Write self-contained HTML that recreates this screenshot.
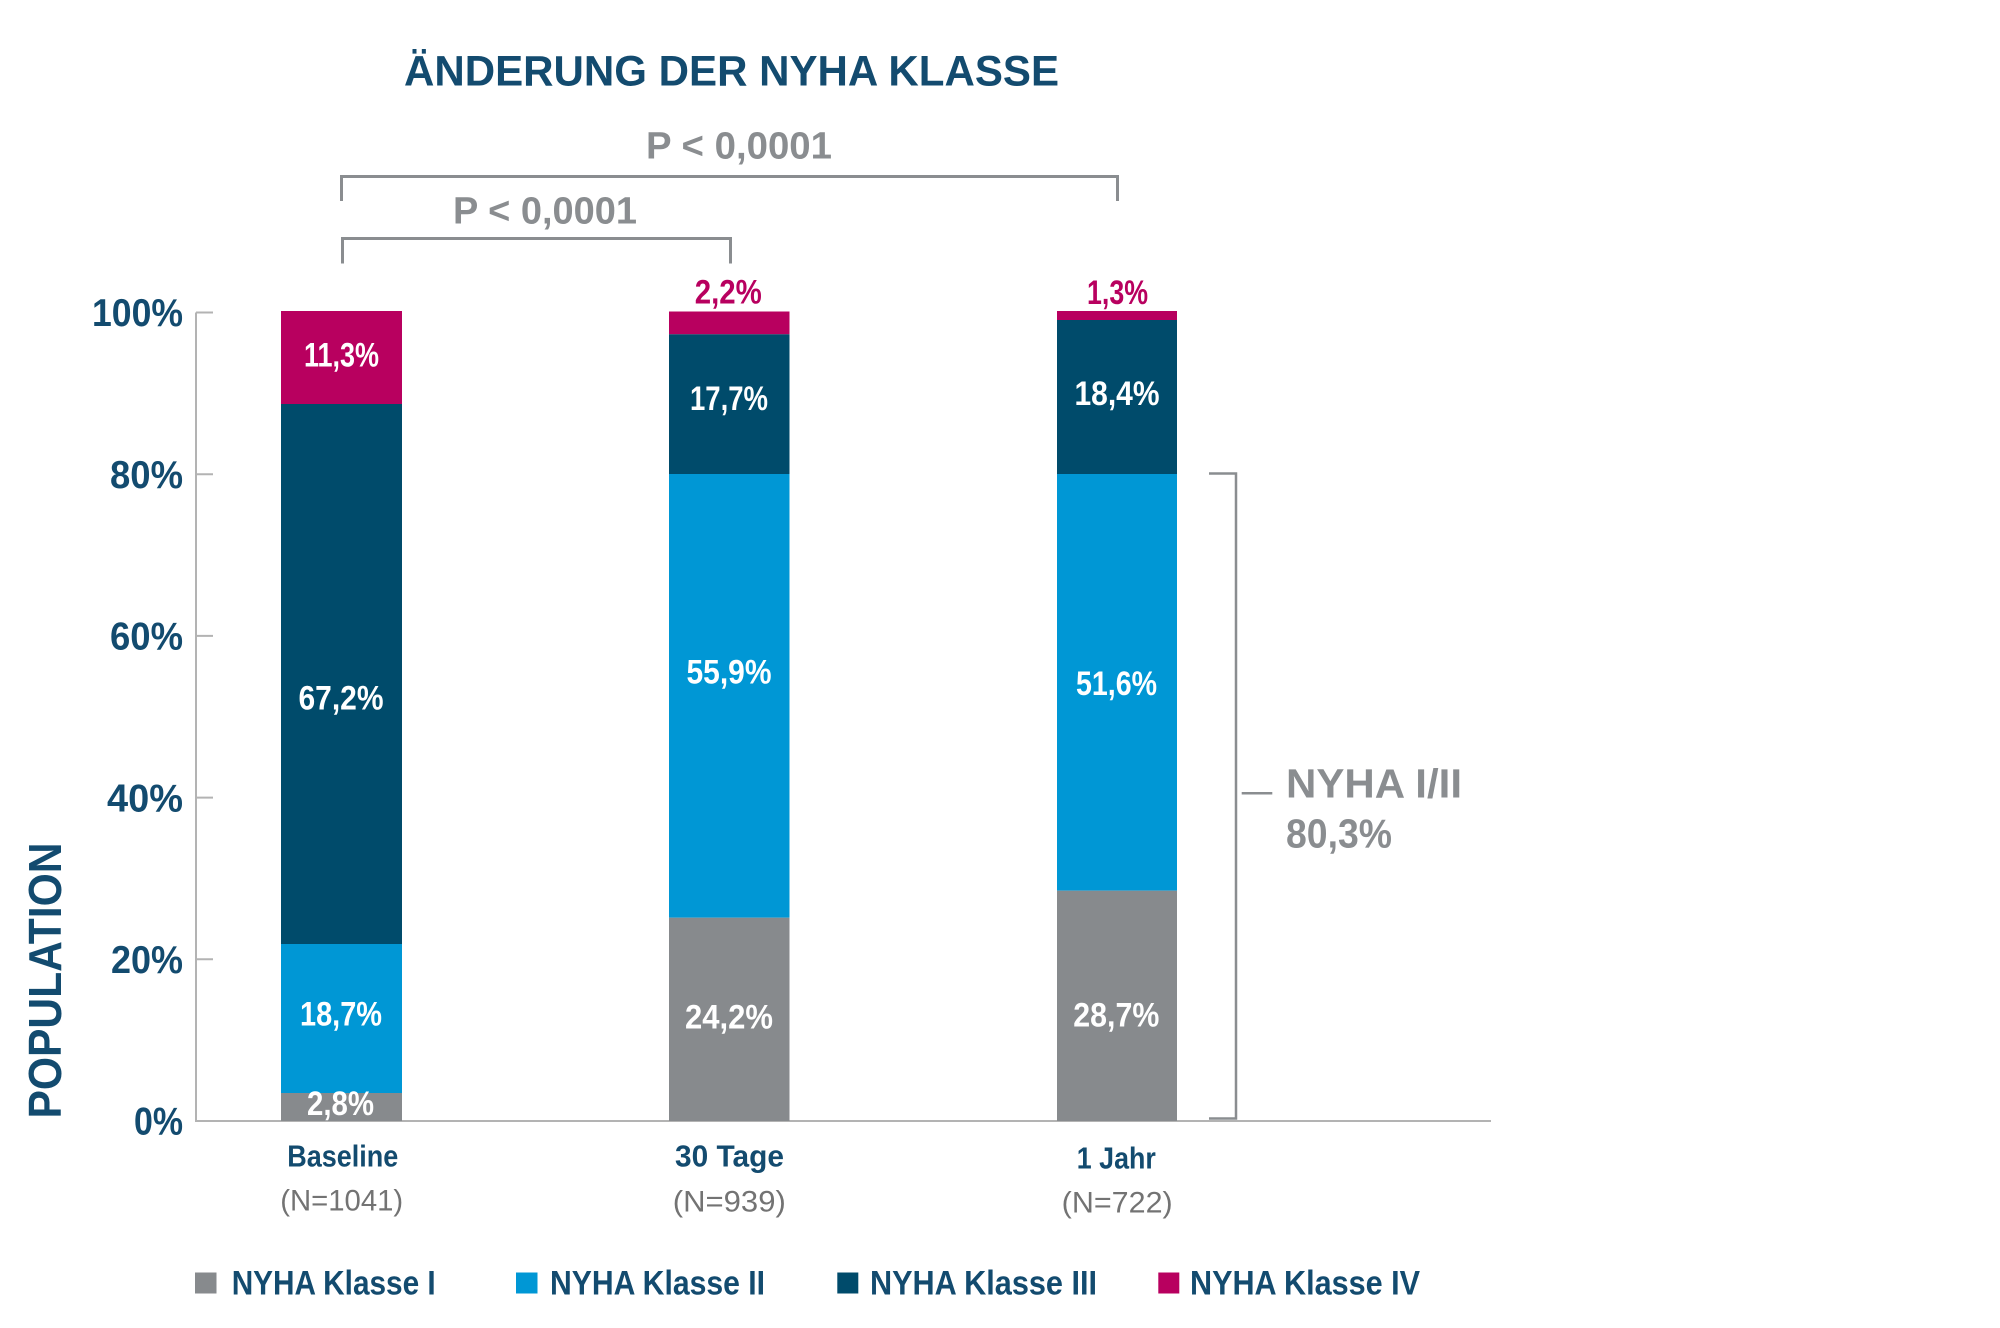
<!DOCTYPE html>
<html>
<head>
<meta charset="utf-8">
<style>
  html, body { margin: 0; padding: 0; background: #ffffff; }
  body { width: 2000px; height: 1328px; overflow: hidden; }
  svg { display: block; }
  text { font-family: "Liberation Sans", "DejaVu Sans", sans-serif; }
</style>
</head>
<body>
<svg width="2000" height="1328" viewBox="0 0 2000 1328" xmlns="http://www.w3.org/2000/svg">
  <rect x="0" y="0" width="2000" height="1328" fill="#ffffff"/>

  <!-- Title -->
  <text x="404" y="85.7" font-size="43" font-weight="bold" fill="#134b6f" textLength="655" lengthAdjust="spacingAndGlyphs">ÄNDERUNG DER NYHA KLASSE</text>

  <!-- P values -->
  <text x="646" y="158.3" font-size="38" font-weight="bold" fill="#8a8d90" textLength="186" lengthAdjust="spacingAndGlyphs">P &lt; 0,0001</text>
  <text x="453" y="223.3" font-size="38" font-weight="bold" fill="#8a8d90" textLength="184" lengthAdjust="spacingAndGlyphs">P &lt; 0,0001</text>

  <!-- Brackets -->
  <path d="M341.5 201 V176.5 H1117.5 V201" fill="none" stroke="#8a8d90" stroke-width="3"/>
  <path d="M342.5 263.5 V238.5 H730.5 V263.5" fill="none" stroke="#8a8d90" stroke-width="3"/>

  <!-- Y axis -->
  <line x1="196" y1="312.5" x2="196" y2="1121" stroke="#b3b3b3" stroke-width="2"/>
  <g stroke="#b3b3b3" stroke-width="2">
    <line x1="196" y1="312.5" x2="213" y2="312.5"/>
    <line x1="196" y1="474.2" x2="213" y2="474.2"/>
    <line x1="196" y1="635.9" x2="213" y2="635.9"/>
    <line x1="196" y1="797.6" x2="213" y2="797.6"/>
    <line x1="196" y1="959.3" x2="213" y2="959.3"/>
  </g>
  <line x1="195" y1="1121" x2="1491" y2="1121" stroke="#b3b3b3" stroke-width="2"/>

  <!-- Y labels -->
  <g font-size="39" font-weight="bold" fill="#134b6f" text-anchor="end">
    <text x="183" y="326.2" textLength="91" lengthAdjust="spacingAndGlyphs">100%</text>
    <text x="183" y="487.9" textLength="73" lengthAdjust="spacingAndGlyphs">80%</text>
    <text x="183" y="649.6" textLength="73" lengthAdjust="spacingAndGlyphs">60%</text>
    <text x="183" y="811.3" textLength="76" lengthAdjust="spacingAndGlyphs">40%</text>
    <text x="183" y="973.1" textLength="72" lengthAdjust="spacingAndGlyphs">20%</text>
    <text x="183" y="1134.6" textLength="49" lengthAdjust="spacingAndGlyphs">0%</text>
  </g>

  <!-- Y axis title -->
  <text transform="translate(61,980.5) rotate(-90)" text-anchor="middle" font-size="46" font-weight="bold" fill="#134b6f" textLength="276" lengthAdjust="spacingAndGlyphs">POPULATION</text>

  <!-- Bar 1: Baseline -->
  <rect x="281" y="311" width="121" height="93" fill="#b8005f"/>
  <rect x="281" y="404" width="121" height="540" fill="#004b6b"/>
  <rect x="281" y="944" width="121" height="149" fill="#0097d5"/>
  <rect x="281" y="1093" width="121" height="28" fill="#878a8d"/>

  <!-- Bar 2: 30 Tage -->
  <rect x="669" y="311.5" width="120.5" height="22.8" fill="#b8005f"/>
  <rect x="669" y="334.3" width="120.5" height="139.7" fill="#004b6b"/>
  <rect x="669" y="474" width="120.5" height="443.7" fill="#0097d5"/>
  <rect x="669" y="917.7" width="120.5" height="203.3" fill="#878a8d"/>

  <!-- Bar 3: 1 Jahr -->
  <rect x="1057" y="311" width="120" height="9" fill="#b8005f"/>
  <rect x="1057" y="320" width="120" height="154" fill="#004b6b"/>
  <rect x="1057" y="474" width="120" height="416.7" fill="#0097d5"/>
  <rect x="1057" y="890.7" width="120" height="230.3" fill="#878a8d"/>

  <!-- Bar value labels -->
  <g font-size="34" font-weight="bold" fill="#ffffff" text-anchor="middle">
    <text x="341.5" y="366.7" textLength="75" lengthAdjust="spacingAndGlyphs">11,3%</text>
    <text x="341" y="709.3" textLength="85" lengthAdjust="spacingAndGlyphs">67,2%</text>
    <text x="341" y="1025.7" textLength="82" lengthAdjust="spacingAndGlyphs">18,7%</text>
    <text x="340.5" y="1115" textLength="67" lengthAdjust="spacingAndGlyphs">2,8%</text>

    <text x="729" y="410" textLength="78" lengthAdjust="spacingAndGlyphs">17,7%</text>
    <text x="729" y="683.3" textLength="85" lengthAdjust="spacingAndGlyphs">55,9%</text>
    <text x="729" y="1028.3" textLength="88" lengthAdjust="spacingAndGlyphs">24,2%</text>

    <text x="1117" y="405" textLength="85" lengthAdjust="spacingAndGlyphs">18,4%</text>
    <text x="1116.5" y="695" textLength="81" lengthAdjust="spacingAndGlyphs">51,6%</text>
    <text x="1116.3" y="1026.7" textLength="86" lengthAdjust="spacingAndGlyphs">28,7%</text>
  </g>
  <g font-size="34" font-weight="bold" fill="#b8005f" text-anchor="middle">
    <text x="728.3" y="303.3" textLength="67" lengthAdjust="spacingAndGlyphs">2,2%</text>
    <text x="1117.5" y="304" textLength="61" lengthAdjust="spacingAndGlyphs">1,3%</text>
  </g>

  <!-- Category labels -->
  <g font-size="31" font-weight="bold" fill="#134b6f" text-anchor="middle">
    <text x="342.8" y="1166.7" textLength="111" lengthAdjust="spacingAndGlyphs">Baseline</text>
    <text x="729.5" y="1166.7" textLength="109" lengthAdjust="spacingAndGlyphs">30 Tage</text>
    <text x="1116.3" y="1168.3" textLength="79" lengthAdjust="spacingAndGlyphs">1 Jahr</text>
  </g>
  <g font-size="30" fill="#737373" text-anchor="middle">
    <text x="341.7" y="1210.5" textLength="123" lengthAdjust="spacingAndGlyphs">(N=1041)</text>
    <text x="729.3" y="1211.7" textLength="113" lengthAdjust="spacingAndGlyphs">(N=939)</text>
    <text x="1117.2" y="1212.7" textLength="111" lengthAdjust="spacingAndGlyphs">(N=722)</text>
  </g>

  <!-- Right bracket NYHA I/II -->
  <path d="M1209 473.5 H1236 V1118.5 H1209" fill="none" stroke="#8a8d90" stroke-width="2.5"/>
  <line x1="1241.7" y1="793.3" x2="1272.3" y2="793.3" stroke="#8a8d90" stroke-width="2.5"/>
  <g font-size="41" font-weight="bold" fill="#8a8d90">
    <text x="1286" y="797.7" textLength="176" lengthAdjust="spacingAndGlyphs">NYHA I/II</text>
    <text x="1286" y="847.7" textLength="106" lengthAdjust="spacingAndGlyphs">80,3%</text>
  </g>

  <!-- Legend -->
  <rect x="195" y="1272.5" width="21.5" height="21" fill="#878a8d"/>
  <rect x="516" y="1272.5" width="21.5" height="21" fill="#0097d5"/>
  <rect x="837.3" y="1272.5" width="21" height="21" fill="#004b6b"/>
  <rect x="1158.3" y="1272.5" width="21" height="21" fill="#b8005f"/>
  <g font-size="34" font-weight="bold" fill="#134b6f">
    <text x="231.7" y="1294.3" textLength="204" lengthAdjust="spacingAndGlyphs">NYHA Klasse I</text>
    <text x="550" y="1294.3" textLength="215" lengthAdjust="spacingAndGlyphs">NYHA Klasse II</text>
    <text x="870" y="1294.3" textLength="227" lengthAdjust="spacingAndGlyphs">NYHA Klasse III</text>
    <text x="1190" y="1294.3" textLength="230" lengthAdjust="spacingAndGlyphs">NYHA Klasse IV</text>
  </g>
</svg>
</body>
</html>
